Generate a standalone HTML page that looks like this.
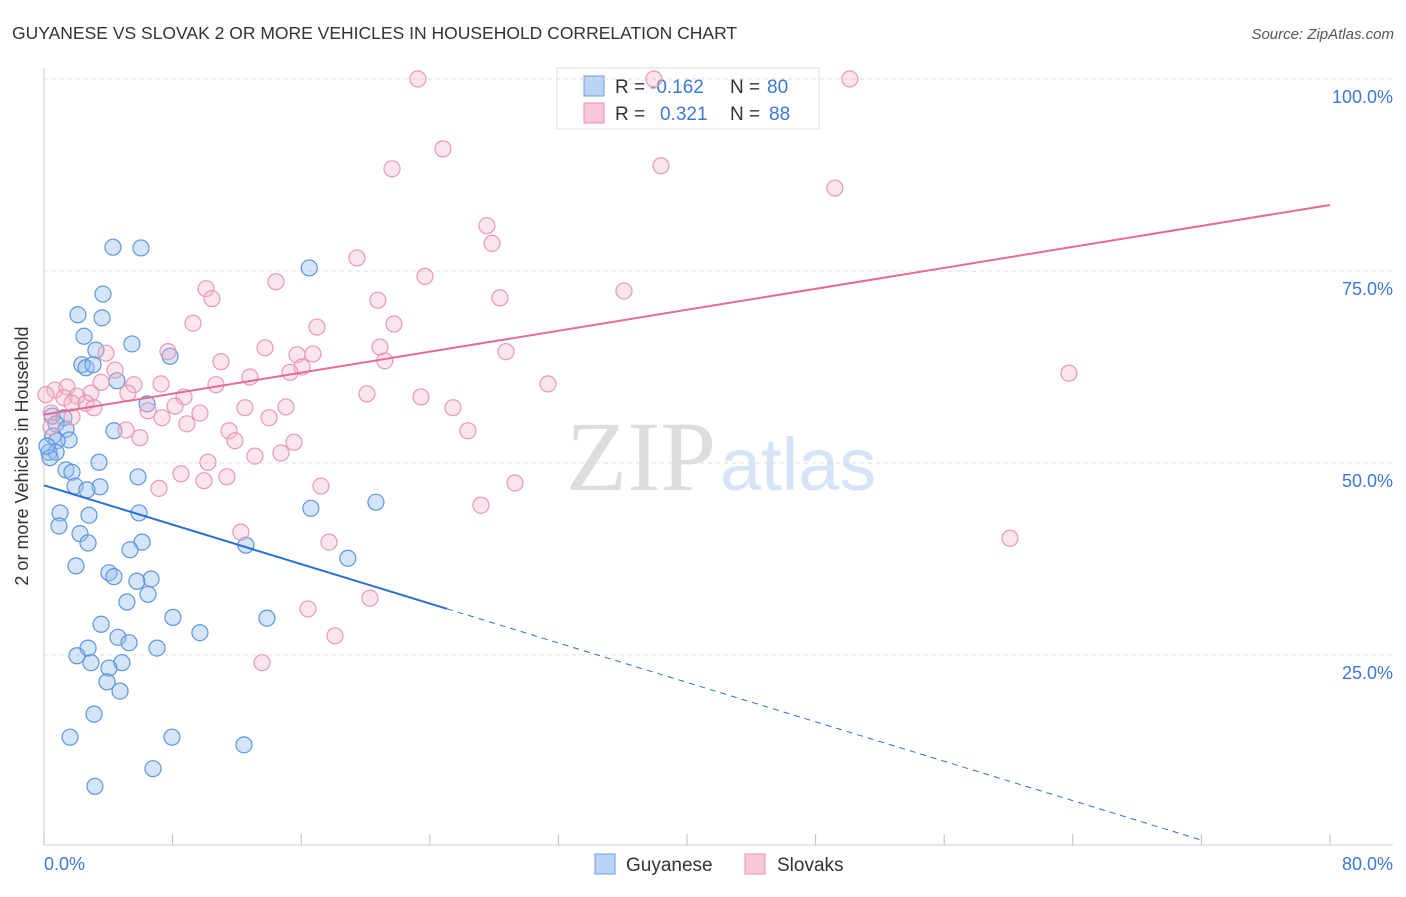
<!DOCTYPE html>
<html><head><meta charset="utf-8"><style>
body{margin:0;background:#fff;font-family:"Liberation Sans",sans-serif;}
svg text{font-family:"Liberation Sans",sans-serif;}
</style></head><body>
<svg id="chart" width="1406" height="892">
<text x="12" y="39" font-size="17.5" fill="#333">GUYANESE VS SLOVAK 2 OR MORE VEHICLES IN HOUSEHOLD CORRELATION CHART</text>
<text x="1394" y="39" font-size="15" fill="#555" font-style="italic" text-anchor="end">Source: ZipAtlas.com</text>
<text x="716" y="490" font-size="100" fill="#ddd" text-anchor="end" style="font-family:'Liberation Serif',serif">ZIP</text>
<text x="720" y="490" font-size="74" fill="#d6e4f5">atlas</text>
<g>
<rect x="557" y="68" width="262" height="61" fill="#fff" stroke="#ddd"/>
<rect x="584" y="76" width="20" height="20" fill="#b9d3f5" stroke="#6a9fe0"/>
<rect x="584" y="103" width="20" height="20" fill="#f8c6d5" stroke="#e890aa"/>
<text x="615" y="93" font-size="19" fill="#333">R =</text>
<text x="650" y="93" font-size="19" fill="#3b78d8">-0.162</text>
<text x="730" y="93" font-size="19" fill="#333">N =</text>
<text x="767" y="93" font-size="19" fill="#3b78d8">80</text>
<text x="615" y="120" font-size="19" fill="#333">R =</text>
<text x="660" y="120" font-size="19" fill="#3b78d8">0.321</text>
<text x="730" y="120" font-size="19" fill="#333">N =</text>
<text x="769" y="120" font-size="19" fill="#3b78d8">88</text>
</g>
<g id="grid"></g><g id="ticks"></g><g id="pts"></g><g id="trend"></g>
<text x="28" y="456" font-size="18" fill="#333" transform="rotate(-90 28 456)" text-anchor="middle">2 or more Vehicles in Household</text>
<g>
<rect x="595" y="854" width="20" height="20" fill="#b9d3f5" stroke="#6a9fe0"/>
<text x="626" y="871" font-size="19" fill="#333">Guyanese</text>
<rect x="745" y="854" width="20" height="20" fill="#f8c6d5" stroke="#e890aa"/>
<text x="777" y="871" font-size="19" fill="#333">Slovaks</text>
</g>
</svg>
<script>
const xTickLabels=["0.0%","80.0%"];
const yTicks=[25,50,75,100];
const yTickLabels=["25.0%","50.0%","75.0%","100.0%"];
const guyX=[4.29,6.03,16.5,3.67,2.11,3.61,2.49,5.47,3.23,7.84,2.36,2.61,3.05,4.54,6.41,0.5,1.24,0.75,1.37,4.35,0.56,1.56,0.81,0.31,0.75,3.42,1.37,1.74,5.85,1.93,3.48,2.67,20.65,16.6,1.0,2.8,5.91,0.93,2.24,2.74,6.1,12.56,5.35,18.9,1.99,4.04,4.35,6.66,5.78,6.47,5.16,8.02,13.87,3.55,9.7,4.6,2.74,5.29,7.03,2.05,2.92,4.85,4.04,3.92,4.73,3.11,1.62,7.96,12.44,6.78,3.17,0.37,0.19];
const guyY=[78.1,78.0,75.4,72.0,69.3,68.9,66.5,65.5,64.7,63.9,62.8,62.4,62.8,60.7,57.7,56.1,55.9,55.1,54.4,54.2,53.5,53.0,52.9,51.4,51.4,50.1,49.1,48.8,48.2,47.0,46.9,46.5,44.9,44.1,43.5,43.2,43.5,41.8,40.8,39.6,39.7,39.3,38.7,37.6,36.6,35.7,35.2,34.9,34.6,32.9,31.9,29.9,29.8,29.0,27.9,27.3,25.9,26.6,25.9,24.9,24.0,24.0,23.3,21.5,20.3,17.3,14.3,14.3,13.3,10.2,7.9,50.7,52.2];
const slvX=[23.26,37.94,50.13,24.82,21.65,38.38,49.2,27.55,27.87,19.47,23.7,14.43,10.08,10.45,36.08,28.36,20.77,9.27,21.77,16.98,20.9,7.71,13.75,28.74,15.74,16.73,3.86,21.2,11.01,16.05,15.3,63.76,4.42,12.81,31.35,3.55,5.6,10.7,7.28,0.68,1.43,0.12,5.22,8.71,20.09,23.45,2.92,2.05,1.24,1.74,2.61,8.15,3.11,6.47,12.5,15.05,9.7,7.34,14.0,1.74,8.89,25.44,26.37,11.51,5.1,5.97,11.88,15.55,14.74,13.12,10.2,8.52,11.38,9.95,17.23,7.15,29.3,27.18,12.25,17.73,60.09,20.28,16.42,18.1,13.56,0.44,0.44];
const slvY=[100,100,100,90.9,88.3,88.7,85.8,80.9,78.6,76.7,74.3,73.6,72.7,71.4,72.4,71.5,71.2,68.2,68.1,67.7,65.1,64.5,65.0,64.5,64.1,64.2,64.3,63.3,63.2,62.5,61.8,61.7,62.1,61.2,60.3,60.5,60.2,60.2,60.3,59.5,59.9,58.9,59.1,58.6,59.0,58.6,59.1,58.7,58.5,57.8,57.8,57.4,57.2,56.8,57.2,57.3,56.5,55.9,55.9,56.0,55.1,57.2,54.2,54.2,54.3,53.3,52.9,52.7,51.3,50.9,50.1,48.6,48.2,47.7,47.0,46.7,47.4,44.5,41.0,39.7,40.2,32.4,31.0,27.5,24.0,56.5,54.7];
const blueTrend=[47.1,0.9]; // y at x=0 and x=72
const pinkTrend=[56.3,83.6]; // y at x=0 and x=80
const NS="http://www.w3.org/2000/svg";
const X=v=>44+v/80*1286, Y=v=>847-v*7.68;
function mk(t,a,p){const e=document.createElementNS(NS,t);for(const k in a)e.setAttribute(k,a[k]);document.getElementById(p).appendChild(e);return e;}
let e;
e=mk('line',{x1:44,y1:68,x2:44,y2:845,stroke:'#ccc'},'grid');


e=mk('line',{x1:44,y1:845,x2:1393,y2:845,stroke:'#ccc'},'grid');


for(let i=0;i<=10;i++){e=mk('line',{x1:X(i*8),y1:845,x2:X(i*8),y2:834,stroke:'#bbb'},'ticks');

}
yTicks.forEach((t,i)=>{e=mk('line',{x1:44,y1:Y(t),x2:1393,y2:Y(t),stroke:'#ddd','stroke-dasharray':'4,4'},'grid');


e=mk('text',{x:1393,y:Y(t)+24,'font-size':18,fill:'#3b78d8','text-anchor':'end'},'ticks');e.textContent=yTickLabels[i];

});
e=mk('text',{x:44,y:870,'font-size':18,fill:'#3b78d8'},'ticks');e.textContent=xTickLabels[0];


e=mk('text',{x:1393,y:870,'font-size':18,fill:'#3b78d8','text-anchor':'end'},'ticks');e.textContent=xTickLabels[1];


guyX.forEach((x,i)=>{e=mk('circle',{cx:X(x),cy:Y(guyY[i]),r:8,fill:'rgba(150,190,240,0.4)',stroke:'#5d95dd','stroke-width':1.2},'pts');

});
slvX.forEach((x,i)=>{e=mk('circle',{cx:X(x),cy:Y(slvY[i]),r:8,fill:'rgba(244,180,200,0.35)',stroke:'#e899b2','stroke-width':1.2},'pts');

});
const by=x=>blueTrend[0]+(blueTrend[1]-blueTrend[0])*x/72;
e=mk('line',{x1:X(0),y1:Y(by(0)),x2:X(25.07),y2:Y(by(25.07)),stroke:'#2a6fd6','stroke-width':2},'trend');


e=mk('line',{x1:X(25.07),y1:Y(by(25.07)),x2:X(72),y2:Y(by(72)),stroke:'#2a6fd6','stroke-width':1,'stroke-dasharray':'6,5'},'trend');


e=mk('line',{x1:X(0),y1:Y(pinkTrend[0]),x2:X(80),y2:Y(pinkTrend[1]),stroke:'#e56b93','stroke-width':2},'trend');


</script>
</body></html>
